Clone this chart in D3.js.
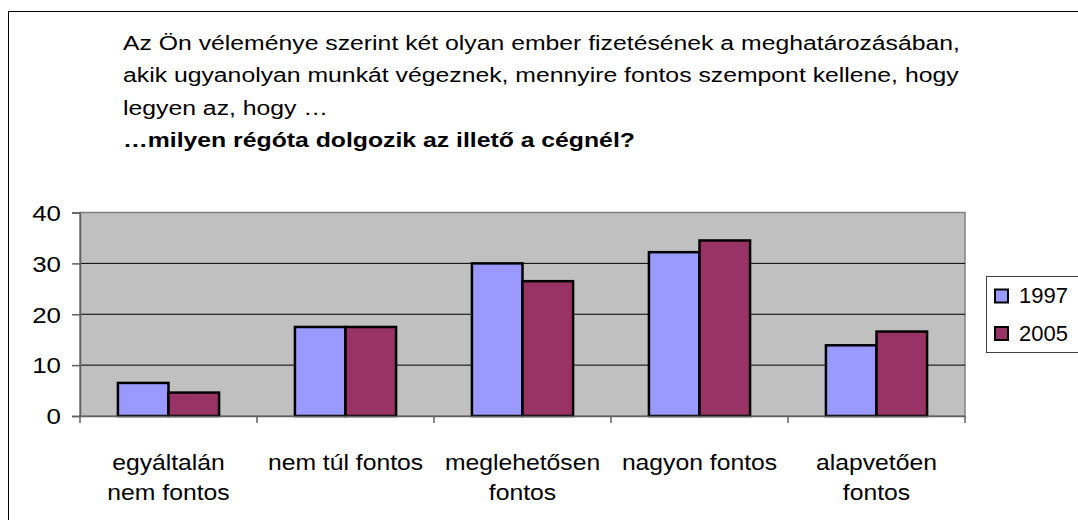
<!DOCTYPE html>
<html><head><meta charset="utf-8">
<script src="https://cdn.jsdelivr.net/npm/d3@7"></script>
<style>
html,body{margin:0;padding:0;background:#fff;}
svg{display:block;}
text{font-family:"Liberation Sans",Arial,sans-serif;fill:#000;}
</style></head>
<body>
<svg id="chart" width="1078" height="520"></svg>
<script>
const titleLines = [
  "Az Ön véleménye szerint két olyan ember fizetésének a meghatározásában,",
  "akik ugyanolyan munkát végeznek, mennyire fontos szempont kellene, hogy",
  "legyen az, hogy …",
  "…milyen régóta dolgozik az illető a cégnél?"
];
const categories = ["egyáltalán nem fontos", "nem túl fontos", "meglehetősen fontos", "nagyon fontos", "alapvetően fontos"];
const categoryLines = [["egyáltalán", "nem fontos"], ["nem túl fontos"], ["meglehetősen", "fontos"], ["nagyon fontos"], ["alapvetően", "fontos"]];
const seriesNames = ["1997", "2005"];
const values1997 = [6.5, 17.5, 30.0, 32.2, 13.9];
const values2005 = [4.6, 17.5, 26.5, 34.5, 16.6];
const yTicks = [0, 10, 20, 30, 40];
const colors = ["#9999FF", "#993366"];

const svg = d3.select("#chart");
const plot = {left: 80, right: 965, top: 212.5, bottom: 416};
const sx = 1.18;

// outer frame
svg.append("rect").attr("x", 8.5).attr("y", 11.5).attr("width", 1200).attr("height", 700)
  .attr("fill", "#fff").attr("stroke", "#000").attr("stroke-width", 1);

function stretchedText(g, x, y, str, size, anchor, weight, scale) {
  return g.append("text")
    .attr("transform", `translate(${x},${y}) scale(${scale},1)`)
    .attr("text-anchor", anchor)
    .attr("font-size", size)
    .attr("font-weight", weight || "normal")
    .text(str);
}

// title
const titleY = [50, 82.3, 114.5, 146.7];
titleLines.forEach((t, i) => {
  stretchedText(svg, 123, titleY[i], t, 21, "start", i === 3 ? "bold" : "normal", sx);
});

const x0 = d3.scaleBand().domain(categories).range([plot.left, plot.right]).paddingInner(0).paddingOuter(0);
const barW = x0.bandwidth() / 3.5;
const x1 = d3.scaleBand().domain(seriesNames).range([0, barW * 2]);
const y = d3.scaleLinear().domain([0, 40]).range([plot.bottom, plot.top]);

// plot area
svg.append("rect").attr("x", plot.left).attr("y", plot.top)
  .attr("width", plot.right - plot.left).attr("height", plot.bottom - plot.top)
  .attr("fill", "#C0C0C0").attr("stroke", "#808080").attr("stroke-width", 1.5);

// gridlines
svg.append("g").selectAll("line").data(yTicks.filter(d => d > 0 && d < 40)).join("line")
  .attr("x1", plot.left).attr("x2", plot.right)
  .attr("y1", d => y(d)).attr("y2", d => y(d))
  .attr("stroke", "#000").attr("stroke-width", 1);

// bars
const data = categories.map((c, i) => ({cat: c, vals: [values1997[i], values2005[i]]}));
const groups = svg.append("g").selectAll("g").data(data).join("g")
  .attr("transform", d => `translate(${x0(d.cat) + (x0.bandwidth() - barW * 2) / 2},0)`);
groups.selectAll("rect").data(d => d.vals.map((v, j) => ({s: seriesNames[j], v, j}))).join("rect")
  .attr("x", d => x1(d.s)).attr("width", x1.bandwidth())
  .attr("y", d => y(d.v)).attr("height", d => y(0) - y(d.v))
  .attr("fill", d => colors[d.j]).attr("stroke", "#000").attr("stroke-width", 2.5);

// y axis
const yAxis = svg.append("g").attr("transform", `translate(${plot.left},0)`)
  .call(d3.axisLeft(y).tickValues(yTicks).tickSize(8).tickFormat(""));
yAxis.select(".domain").attr("stroke", "#606060").attr("stroke-width", 1.5);
yAxis.selectAll(".tick line").attr("stroke", "#606060").attr("stroke-width", 1.5);
yTicks.forEach(t => {
  stretchedText(svg, 61, y(t) + 8.3, String(t), 22.5, "end", "normal", 1.15);
});

// x axis
const xAxis = svg.append("g").attr("transform", `translate(0,${plot.bottom})`)
  .call(d3.axisBottom(x0).tickSize(0).tickFormat(""));
xAxis.select(".domain").attr("stroke", "#606060").attr("stroke-width", 1.5);
const tickXs = categories.map(c => x0(c)).concat([plot.right]);
svg.append("g").selectAll("line").data(tickXs).join("line")
  .attr("x1", d => d).attr("x2", d => d).attr("y1", plot.bottom).attr("y2", plot.bottom + 7)
  .attr("stroke", "#606060").attr("stroke-width", 1.5);
categoryLines.forEach((lines, i) => {
  const cx = x0(categories[i]) + x0.bandwidth() / 2;
  lines.forEach((ln, k) => {
    stretchedText(svg, cx, 470 + k * 30, ln, 21.5, "middle", "normal", 1.15);
  });
});

// legend
const lg = svg.append("g");
lg.append("rect").attr("x", 986.5).attr("y", 276.5).attr("width", 200).attr("height", 76)
  .attr("fill", "#fff").attr("stroke", "#404040").attr("stroke-width", 1);
seriesNames.forEach((s, i) => {
  const yy = 289.5 + i * 37.5;
  lg.append("rect").attr("x", 995).attr("y", yy).attr("width", 13).attr("height", 13)
    .attr("fill", colors[i]).attr("stroke", "#000").attr("stroke-width", 2);
  stretchedText(lg, 1019, yy + 13.5, s, 22, "start", "normal", 1.0);
});
</script>
</body></html>
